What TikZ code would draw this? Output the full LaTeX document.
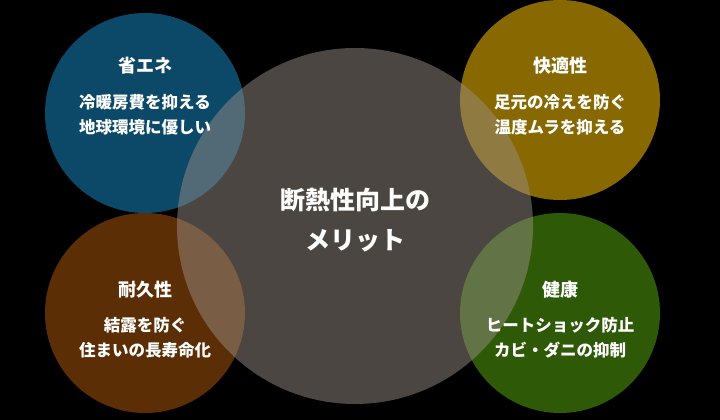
\documentclass[tikz,border=0pt]{standalone}
\usepackage{fontspec}
\setmainfont{Noto Sans CJK JP}
\begin{document}
\begin{tikzpicture}[x=1pt,y=-1pt,
  ttl/.style={text=white,font=\fontsize{18}{20}\selectfont\bfseries},
  txt/.style={text=white,font=\fontsize{16.5}{25}\selectfont\bfseries,align=center}]
\fill[black] (0,0) rectangle (720,420);
\useasboundingbox (0,0) rectangle (720,420);
\fill[fill={rgb,255:red,12;green,72;blue,104}] (145,113) circle (100);
\fill[fill={rgb,255:red,136;green,104;blue,0}] (560,100) circle (100);
\fill[fill={rgb,255:red,92;green,46;blue,6}] (145,313) circle (100);
\fill[fill={rgb,255:red,46;green,90;blue,8}] (560,313) circle (100);
\fill[fill={rgb,255:red,150;green,140;blue,130},fill opacity=0.5] (355,226) circle (178);
\node[ttl] (t1) at (145,66) {省エネ};
\node[txt] (b1) at (145,115) {冷暖房費を抑える\\地球環境に優しい};
\node[ttl] (t2) at (560,66) {快適性};
\node[txt] (b2) at (560,115) {足元の冷えを防ぐ\\温度ムラを抑える};
\node[ttl] (t3) at (145,290) {耐久性};
\node[txt] (b3) at (145,338) {結露を防ぐ\\住まいの長寿命化};
\node[ttl] (t4) at (560,290) {健康};
\node[txt] (b4) at (560,338) {ヒートショック防止\\カビ・ダニの抑制};
\node[text=white,font=\fontsize{25}{40}\selectfont\bfseries,align=center] (c) at (355,220) {断熱性向上の\\メリット};
\end{tikzpicture}
\end{document}
